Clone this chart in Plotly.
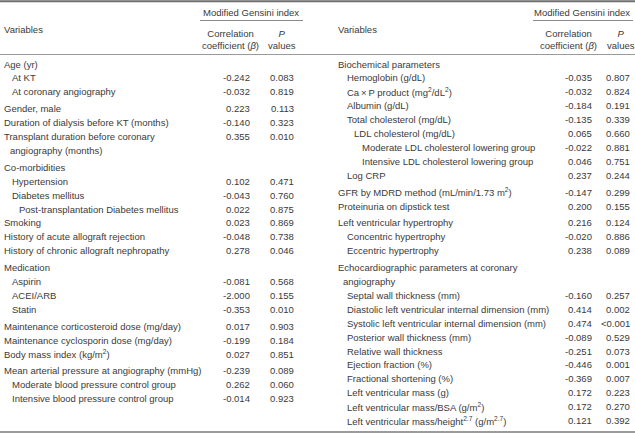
import plotly.graph_objects as go

# ---------------- data ----------------
left_labels = [
    "Age (yr)", "At KT", "At coronary angiography",
    "Gender, male", "Duration of dialysis before KT (months)",
    "Transplant duration before coronary", "angiography (months)",
    "Co-morbidities", "Hypertension", "Diabetes mellitus",
    "Post-transplantation Diabetes mellitus", "Smoking",
    "History of acute allograft rejection", "History of chronic allograft nephropathy",
    "Medication", "Aspirin", "ACEI/ARB", "Statin",
    "Maintenance corticosteroid dose (mg/day)", "Maintenance cyclosporin dose (mg/day)",
    "Body mass index (kg/m<sup>2</sup>)",
    "Mean arterial pressure at angiography (mmHg)",
    "Moderate blood pressure control group", "Intensive blood pressure control group",
]
# indent level: 0,1,2,3 ; "c" = continuation of previous line
left_levels = [0, 1, 1, 0, 0, 0, "c", 0, 1, 1, 2, 0, 0, 0, 0, 1, 1, 1, 0, 0, 0, 0, 1, 1]
left_corr = ["", "-0.242", "-0.032", "0.223", "-0.140", "0.355", "", "", "0.102", "-0.043",
             "0.022", "0.023", "-0.048", "0.278", "", "-0.081", "-2.000", "-0.353",
             "0.017", "-0.199", "0.027", "-0.239", "0.262", "-0.014"]
left_p = ["", "0.083", "0.819", "0.113", "0.323", "0.010", "", "", "0.471", "0.760",
          "0.875", "0.869", "0.738", "0.046", "", "0.568", "0.155", "0.010",
          "0.903", "0.184", "0.851", "0.089", "0.060", "0.923"]
left_group_start = [0, 0, 0, 1, 0, 0, 0, 1, 0, 0, 0, 0, 0, 0, 1, 0, 0, 0, 1, 0, 0, 1, 0, 0]

right_labels = [
    "Biochemical parameters", "Hemoglobin (g/dL)",
    "Ca\u2009\u00d7\u2009P product (mg<sup>2</sup>/dL<sup>2</sup>)", "Albumin (g/dL)",
    "Total cholesterol (mg/dL)", "LDL cholesterol (mg/dL)",
    "Moderate LDL cholesterol lowering group", "Intensive LDL cholesterol lowering group",
    "Log CRP", "GFR by MDRD method (mL/min/1.73 m<sup>2</sup>)",
    "Proteinuria on dipstick test", "Left ventricular hypertrophy",
    "Concentric hypertrophy", "Eccentric hypertrophy",
    "Echocardiographic parameters at coronary", "angiography",
    "Septal wall thickness (mm)", "Diastolic left ventricular internal dimension (mm)",
    "Systolic left ventricular internal dimension (mm)", "Posterior wall thickness (mm)",
    "Relative wall thickness", "Ejection fraction (%)", "Fractional shortening (%)",
    "Left ventricular mass (g)", "Left ventricular mass/BSA (g/m<sup>2</sup>)",
    "Left ventricular mass/height<sup>2.7</sup> (g/m<sup>2.7</sup>)",
]
right_levels = [0, 1, 1, 1, 1, 2, 3, 3, 1, 0, 0, 0, 1, 1, 0, "c", 1, 1, 1, 1, 1, 1, 1, 1, 1, 1]
right_corr = ["", "-0.035", "-0.032", "-0.184", "-0.135", "0.065", "-0.022", "0.046",
              "0.237", "-0.147", "0.200", "0.216", "-0.020", "0.238", "", "",
              "-0.160", "0.414", "0.474", "-0.089", "-0.251", "-0.446", "-0.369",
              "0.172", "0.172", "0.121"]
right_p = ["", "0.807", "0.824", "0.191", "0.339", "0.660", "0.881", "0.751",
           "0.244", "0.299", "0.155", "0.124", "0.886", "0.089", "", "",
           "0.257", "0.002", "&lt;0.001", "0.529", "0.073", "0.001", "0.007",
           "0.223", "0.270", "0.392"]
right_group_start = [0, 0, 0, 0, 0, 0, 0, 0, 0, 1, 0, 1, 0, 0, 1, 0,
                     0, 0, 0, 0, 0, 0, 0, 0, 0, 0]

header_title = "Modified Gensini index"
header_corr = "Correlation<br>coefficient (<i>\u03b2</i>)"
header_p = "<i>P</i><br>values"
header_var = "Variables"

# ---------------- layout constants ----------------
W, H = 635, 438
FONT = "Liberation Sans, Arial, sans-serif"
FS = 9.5
TXT = "#3a3a3a"
ROW0, ROWH, GAP = 64, 13.9, 3.0

def row_positions(group_start):
    ys, extra = [], 0.0
    for i, g in enumerate(group_start):
        if i > 0 and g:
            extra += GAP
        ys.append(ROW0 + i * ROWH + extra)
    return ys

fig = go.Figure()
fig.add_trace(go.Scatter(x=[0, W], y=[0, H], mode="markers",
                         marker=dict(opacity=0), hoverinfo="skip", showlegend=False))

annotations = []

def add_text(x, y, text, anchor, align="left"):
    annotations.append(dict(x=x, y=y, xref="x", yref="y", text=text, showarrow=False,
                            xanchor=anchor, yanchor="middle", align=align,
                            font=dict(family=FONT, size=FS, color=TXT)))

def build_side(labels, levels, corr, pv, gstart, base_x, offsets, corr_x, p_x,
               title_cx, corr_cx, p_cx, var_x, ul0, ul1):
    ys = row_positions(gstart)
    for lab, lev, c, p, y in zip(labels, levels, corr, pv, ys):
        add_text(base_x + offsets[lev], y, lab, "left")
        if c:
            add_text(corr_x, y, c, "right")
        if p:
            add_text(p_x, y, p, "right")
    add_text(title_cx, 12, header_title, "center")
    add_text(corr_cx, 39, header_corr, "center", "center")
    add_text(p_cx, 39, header_p, "center", "center")
    add_text(var_x, 29, header_var, "left")
    fig.add_shape(type="line", x0=ul0, x1=ul1, y0=20.5, y1=20.5, xref="x", yref="y",
                  line=dict(color="#8a8a8a", width=1))

build_side(left_labels, left_levels, left_corr, left_p, left_group_start,
           base_x=2, offsets={0: 0, 1: 8, 2: 15, 3: 22, "c": 6},
           corr_x=252, p_x=296,
           title_cx=251, corr_cx=230, p_cx=282, var_x=2, ul0=200, ul1=303)
build_side(right_labels, right_levels, right_corr, right_p, right_group_start,
           base_x=336, offsets={0: 0, 1: 9, 2: 16, 3: 24, "c": 5},
           corr_x=594, p_x=632,
           title_cx=582, corr_cx=568, p_cx=621, var_x=336, ul0=533, ul1=633)

for y, w, c in [(1.2, 2, "#6e6e6e"), (54.5, 1, "#9a9a9a"), (432, 1.5, "#7a7a7a")]:
    fig.add_shape(type="line", x0=0, x1=W, y0=y, y1=y, xref="x", yref="y",
                  line=dict(color=c, width=w))

fig.update_layout(
    width=W, height=H, margin=dict(l=0, r=0, t=0, b=0),
    paper_bgcolor="white", plot_bgcolor="white",
    annotations=annotations, showlegend=False,
    xaxis=dict(range=[0, W], visible=False, fixedrange=True),
    yaxis=dict(range=[H, 0], visible=False, fixedrange=True),
)
fig.write_html("out.html", config={"displayModeBar": False},
               post_script="document.body.style.margin='0px';document.body.style.overflow='hidden';")
